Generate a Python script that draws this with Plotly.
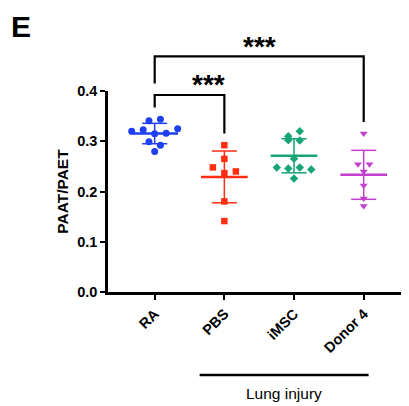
import numpy as np
import plotly.graph_objects as go

# ---- data ----
categories = ["RA", "PBS", "iMSC", "Donor 4"]
ra_vals = [0.3406, 0.3440, 0.3200, 0.3227, 0.3147, 0.3160, 0.3247, 0.2988, 0.2922, 0.2797]
pbs_vals = [0.2922, 0.2650, 0.2480, 0.2366, 0.2399, 0.1803, 0.1412]
imsc_vals = [0.3101, 0.3200, 0.3022, 0.3016, 0.2650, 0.2479, 0.2459, 0.2479, 0.2439, 0.2260]
donor_vals = [0.3152, 0.2544, 0.2544, 0.2397, 0.2118, 0.1860, 0.1709]
y_ticks = [0.0, 0.1, 0.2, 0.3, 0.4]
sig_labels = ["***", "***"]
group_label = "Lung injury"

# ---- styles ----
colors = ["#1f3ff2", "#ff2e12", "#14a572", "#c43fcd"]
symbols = ["circle", "square", "diamond", "triangle-down"]
msizes = [7, 6.5, 6.5, 7]
YMAX = 0.4
XR = [-0.67, 3.65]
STEP = 0.165      # swarm spacing in category units
THR = 0.0125      # value span that shares one swarm row
PAGE_OFF = 8      # default body margin of the page
W, H = 409 - PAGE_OFF, 406 - PAGE_OFF
ML, MT, MB = 108 - PAGE_OFF, 91 - PAGE_OFF, 114
PLOT_W, PLOT_H = W - ML, H - MT - MB
FONT = "Liberation Sans, Arial"

def swarm(vals):
    groups = []
    for v in vals:
        if groups and max(groups[-1] + [v]) - min(groups[-1] + [v]) <= THR:
            groups[-1].append(v)
        else:
            groups.append([v])
    offs = []
    for g in groups:
        n = len(g)
        offs += [(i - (n - 1) / 2) * STEP for i in range(n)]
    return offs

all_vals = [ra_vals, pbs_vals, imsc_vals, donor_vals]
fig = go.Figure()

for i, vals in enumerate(all_vals):
    m = float(np.mean(vals))
    sd = float(np.std(vals, ddof=1))
    c = colors[i]
    fig.add_trace(go.Scatter(x=[i - 0.335, i + 0.335], y=[m, m], mode="lines",
                             line=dict(color=c, width=2.5), hoverinfo="skip", showlegend=False))
    fig.add_trace(go.Scatter(
        x=[i, i, None, i - 0.18, i + 0.18, None, i - 0.18, i + 0.18],
        y=[m - sd, m + sd, None, m + sd, m + sd, None, m - sd, m - sd],
        mode="lines", line=dict(color=c, width=1.5), hoverinfo="skip", showlegend=False))
    offs = swarm(vals)
    fig.add_trace(go.Scatter(x=[i + o for o in offs], y=vals, mode="markers",
                             marker=dict(symbol=symbols[i], size=msizes[i], color=c, line=dict(width=0)),
                             cliponaxis=False, showlegend=False))

def px(x):
    return (x - XR[0]) / (XR[1] - XR[0])

def py(v):
    return v / YMAX

# significance brackets
gap = 0.023
low_top = 0.392
up_top = 0.469
brackets = [(0, 1, low_top, max(ra_vals) + gap, max(pbs_vals) + gap),
            (0, 3, up_top, low_top + gap, max(donor_vals) + gap)]
for (a, b, top, la, lb), lab in zip(brackets, sig_labels):
    fig.add_shape(type="path", xref="paper", yref="paper",
                  path=f"M {px(a)},{py(la)} L {px(a)},{py(top)} L {px(b)},{py(top)} L {px(b)},{py(lb)}",
                  line=dict(color="black", width=2.2))
    fig.add_annotation(x=px((a + b) / 2), y=py(top + 0.020), xref="paper", yref="paper",
                       text=f"<b>{lab}</b>", showarrow=False, yanchor="middle",
                       font=dict(family=FONT, size=28, color="black"))

# group line
fig.add_shape(type="line", xref="paper", yref="paper",
              x0=px(0.645), x1=px(3.07), y0=py(-0.165), y1=py(-0.165),
              line=dict(color="black", width=2.5))
fig.add_annotation(x=px((0.645 + 3.07) / 2), y=py(-0.201), xref="paper", yref="paper",
                   text=group_label, showarrow=False, yanchor="middle",
                   font=dict(family=FONT, size=15.5, color="black"))

# panel letter (page position converted to paper units)
fig.add_annotation(x=(21 - 108) / PLOT_W, y=(292 - 26) / PLOT_H, xref="paper", yref="paper",
                   xanchor="center", yanchor="middle", text="<b>E</b>", showarrow=False,
                   font=dict(family=FONT, size=30, color="black"))

fig.update_layout(
    width=W, height=H,
    margin=dict(l=ML, r=0, t=MT, b=MB, pad=0),
    paper_bgcolor="white", plot_bgcolor="white",
    font=dict(family=FONT, color="black"),
    xaxis=dict(range=XR, tickmode="array", tickvals=list(range(len(categories))),
               ticktext=categories, tickangle=-45, showgrid=False, zeroline=False,
               showline=True, linecolor="black", linewidth=2.5, ticks="outside",
               ticklen=5, tickwidth=2, tickcolor="black",
               tickfont=dict(size=14.5, weight="bold")),
    yaxis=dict(range=[0, YMAX], tickvals=y_ticks, tickformat=".1f", showgrid=False,
               zeroline=False, showline=True, linecolor="black", linewidth=2.5,
               ticks="outside", ticklen=5, tickwidth=2, tickcolor="black",
               tickfont=dict(size=14.5, weight="bold"),
               title=dict(text="PAAT/PAET", standoff=5, font=dict(size=15.5, weight="bold"))),
)

fig.write_html("out.html")
